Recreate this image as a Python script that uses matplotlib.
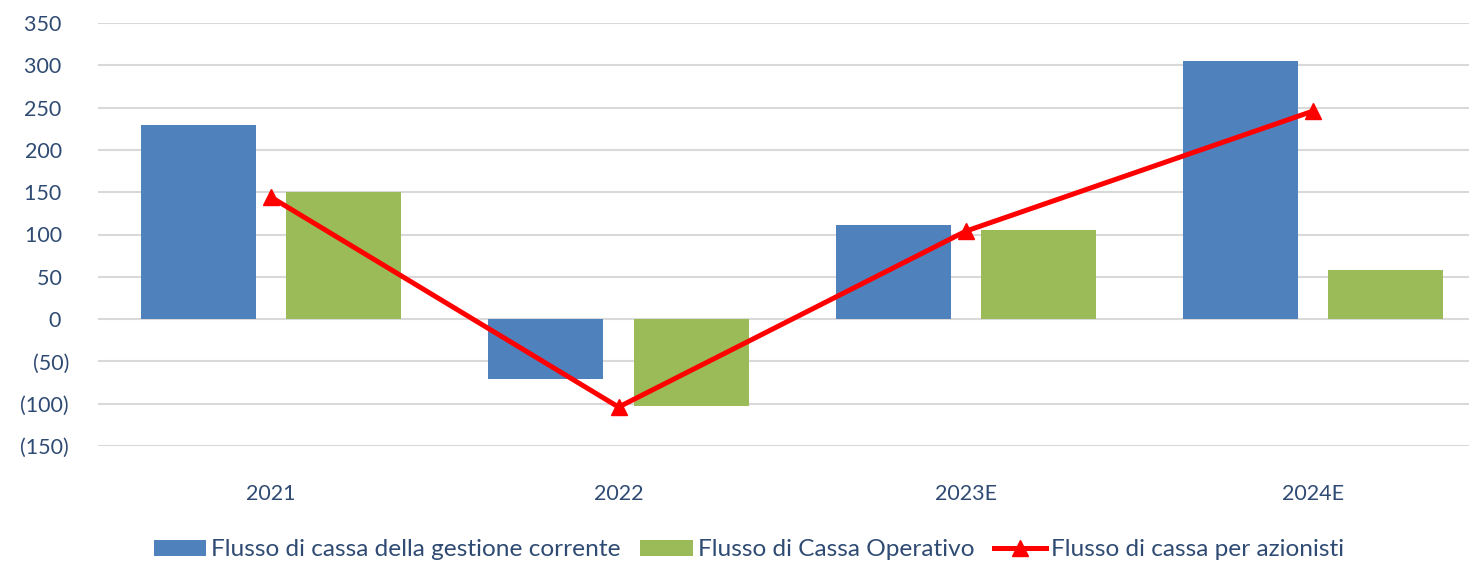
import matplotlib
matplotlib.use("Agg")
import matplotlib.pyplot as plt
import numpy as np

categories = ["2021", "2022", "2023E", "2024E"]
gestione_corrente = [230, -71, 111, 305]
cassa_operativo = [150, -103, 105, 58]
cassa_azionisti = [144, -104, 104, 246]
yticks = [-150, -100, -50, 0, 50, 100, 150, 200, 250, 300, 350]
ytick_labels = ["(150)", "(100)", "(50)", "0\u2008\u2009", "50\u2008\u2009", "100\u2008\u2009",
                "150\u2008\u2009", "200\u2008\u2009", "250\u2008\u2009", "300\u2008\u2009", "350\u2008\u2009"]

plt.rcParams['font.family'] = ['Lato', 'DejaVu Sans']
txt_color = '#2F4B73'

fig = plt.figure(figsize=(14.69, 5.63), dpi=100)
W, H = 1469, 563
left_px, right_px = 97.5, 1469
top_px, bot_px = 23, 446
ax = fig.add_axes([left_px / W, 1 - bot_px / H, (right_px - left_px) / W, (bot_px - top_px) / H])

x = np.arange(len(categories))
bw = 0.331
off = 0.209
b1 = ax.bar(x - off, gestione_corrente, bw, color='#4F81BD', label='Flusso di cassa della gestione corrente', zorder=2)
b2 = ax.bar(x + off, cassa_operativo, bw, color='#9BBB59', label='Flusso di Cassa Operativo', zorder=2)
l1, = ax.plot(x, cassa_azionisti, color='#FF0000', lw=3.6, marker='^', markersize=11,
              label='Flusso di cassa per azionisti', zorder=3)

ax.set_ylim(-150, 350)
ax.set_xlim(-0.5, 3.5 - (1487 - 1469) / 347)
ax.set_yticks(yticks)
ax.set_yticklabels(ytick_labels)
ax.set_xticks(x)
ax.set_xticklabels(categories)
ax.yaxis.grid(True, color='#D9D9D9', lw=1.5, zorder=0)
ax.set_axisbelow(True)
for s in ax.spines.values():
    s.set_visible(False)
ax.tick_params(axis='both', length=0, colors=txt_color, labelsize=15.5)
ax.tick_params(axis='y', pad=20.5)
ax.tick_params(axis='x', pad=27)

leg = fig.legend([b1, b2, l1],
                 ['Flusso di cassa della gestione corrente', 'Flusso di Cassa Operativo',
                  'Flusso di cassa per azionisti'],
                 loc='center', bbox_to_anchor=(749 / W, 1 - 550 / H), ncol=3, frameon=False,
                 fontsize=17.6, handlelength=2.15, handleheight=0.65, handletextpad=0.2,
                 columnspacing=0.8, labelcolor=txt_color, borderpad=0)

fig.savefig('out.png', dpi=100)
